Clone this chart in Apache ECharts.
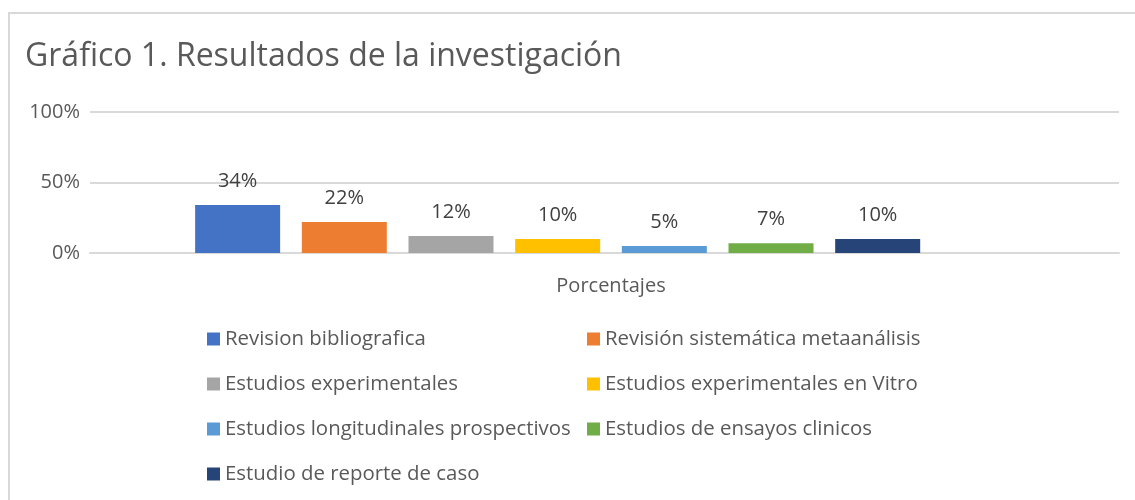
<!DOCTYPE html>
<html lang="es">
<head>
    <meta charset="UTF-8">
    <title>Gráfico 1</title>
    <script src="https://cdn.jsdelivr.net/npm/echarts@6/dist/echarts.min.js"></script>
</head>
<style>
html,body{margin:0;padding:0;background-color:#fff}
#chartBox{width:1135px;height:500px}
</style>
<body>
    <div id="chartBox"></div>
</body>
<script>
// datos del gráfico
const chartTitle = 'Gráfico 1. Resultados de la investigación';
const categories = ['Porcentajes'];
const seriesNames = [
    'Revision bibliografica',
    'Revisión sistemática metaanálisis',
    'Estudios experimentales',
    'Estudios experimentales en Vitro',
    'Estudios longitudinales prospectivos',
    'Estudios de ensayos clinicos',
    'Estudio de reporte de caso'
];
const seriesValues = [0.34, 0.22, 0.12, 0.10, 0.05, 0.07, 0.10];
const yTicks = [0, 0.5, 1];

const COLORS = ['#4472C4', '#ED7D31', '#A5A5A5', '#FFC000', '#5B9BD5', '#70AD47', '#264478'];
const FONT = '"Open Sans", "Liberation Sans", sans-serif';

function pct(v){ return Math.round(v * 100) + '%'; }

function buildSeries(){
    let list = seriesNames.map((name, i) => ({
        type: 'bar',
        name: name,
        xAxisIndex: 1,
        yAxisIndex: 1,
        barWidth: 85,
        barGap: '25.5%',
        itemStyle: {color: COLORS[i]},
        label: {
            show: true,
            position: 'top',
            distance: 14,
            formatter: p => pct(p.value),
            fontFamily: FONT,
            fontSize: 20,
            color: '#404040'
        },
        data: [seriesValues[i]]
    }));
    // hueco vacío al final del grupo (como en Excel)
    list.push({type: 'bar', name: '_', xAxisIndex: 1, yAxisIndex: 1, barWidth: 85, data: ['-']});
    return list;
}

function legendColumn(left, idx){
    return {
        orient: 'vertical',
        left: left,
        top: 329,
        padding: 0,
        itemWidth: 13,
        itemHeight: 13,
        itemGap: 25,
        icon: 'rect',
        selectedMode: false,
        textStyle: {fontFamily: FONT, fontSize: 20.4, color: '#595959'},
        data: idx.map(i => seriesNames[i])
    };
}

const yRange = {min: yTicks[0], max: yTicks[yTicks.length - 1], interval: yTicks[1] - yTicks[0]};

let chartObj = echarts.init(document.getElementById('chartBox'));
chartObj.setOption({
    animation: false,
    title: {
        text: chartTitle,
        left: 25,
        top: 41,
        padding: 0,
        textStyle: {fontFamily: FONT, fontSize: 32, fontWeight: 'normal', color: '#595959'}
    },
    graphic: [{
        type: 'rect',
        shape: {x: 9, y: 13, width: 1200, height: 600},
        style: {fill: 'none', stroke: '#d9d9d9', lineWidth: 2},
        silent: true
    }],
    // grid 0: líneas de cuadrícula y etiquetas; grid 1: barras
    grid: [
        {left: 90, right: 16, top: 112, height: 141},
        {left: 90, right: 3, top: 112, height: 141}
    ],
    xAxis: [
        {
            type: 'category',
            gridIndex: 0,
            data: categories,
            axisLine: {show: true, lineStyle: {color: '#d9d9d9', width: 2}},
            axisTick: {show: false},
            axisLabel: {show: false}
        },
        {
            type: 'category',
            gridIndex: 1,
            data: categories,
            axisLine: {show: false},
            axisTick: {show: false},
            axisLabel: {margin: 23, fontFamily: FONT, fontSize: 20, color: '#595959'}
        }
    ],
    yAxis: [
        Object.assign({
            type: 'value',
            gridIndex: 0,
            axisLine: {show: false},
            axisTick: {show: false},
            splitLine: {lineStyle: {color: '#d9d9d9', width: 2}},
            axisLabel: {margin: 10, fontFamily: FONT, fontSize: 20, color: '#595959', formatter: v => pct(v)}
        }, yRange),
        Object.assign({
            type: 'value',
            gridIndex: 1,
            axisLine: {show: false},
            axisTick: {show: false},
            splitLine: {show: false},
            axisLabel: {show: false}
        }, yRange)
    ],
    legend: [legendColumn(207, [0, 2, 4, 6]), legendColumn(587, [1, 3, 5])],
    series: buildSeries()
});
</script>
</html>
